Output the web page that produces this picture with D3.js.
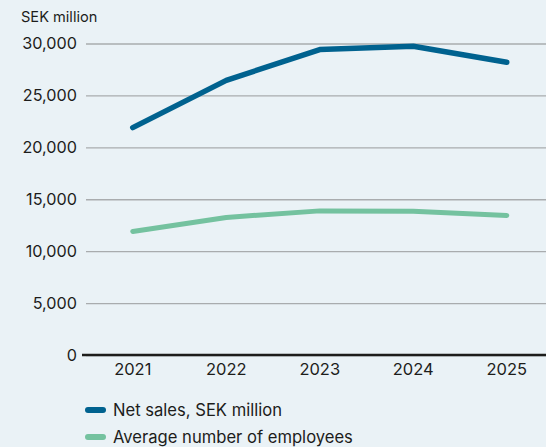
<!DOCTYPE html>
<html><head><meta charset="utf-8">
<script src="https://cdn.jsdelivr.net/npm/d3@7"></script>
<style>
html,body{margin:0;padding:0;background:#eaf2f6;overflow:hidden}
svg{display:block;font-family:Inter,"Noto Sans",sans-serif}
</style></head><body>
<svg id="c" width="546" height="447"></svg>
<script>
const years = ["2021","2022","2023","2024","2025"];
const netSales = [21900, 26450, 29420, 29740, 28200];
const employees = [11900, 13250, 13880, 13850, 13440];
const yTicks = [0, 5000, 10000, 15000, 20000, 25000, 30000];
const seriesNames = ["Net sales, SEK million", "Average number of employees"];
const seriesColors = ["#00628f", "#74c29f"];

const svg = d3.select("#c");
svg.append("rect").attr("width",546).attr("height",447).attr("fill","#eaf2f6");

const x = d3.scaleBand().domain(years).range([86, 553.5]);
const y = d3.scaleLinear().domain([0, 30000]).range([355, 43.5]);
const fmt = d3.format(",");

// grid + y labels
const ya = svg.append("g").attr("transform","translate(86,0)")
  .call(d3.axisLeft(y).tickValues(yTicks).tickFormat(fmt).tickSize(-460).tickPadding(9));
ya.select(".domain").remove();
ya.selectAll(".tick line").attr("stroke","#a9acae").attr("stroke-width",1.3);
ya.selectAll(".tick text").attr("fill","#1d1d1b").attr("font-size","16.2px").attr("font-family","Inter,sans-serif");

svg.append("text").attr("x",21).attr("y",22).attr("font-size","14.6px").attr("fill","#1d1d1b").text("SEK million");

// x axis
const xa = svg.append("g").attr("transform","translate(0,355)")
  .call(d3.axisBottom(x).tickSize(0).tickPadding(8));
xa.select(".domain").attr("stroke","#1d1d1b").attr("stroke-width",2.5).attr("d","M82,0H553.5");
xa.selectAll(".tick text").attr("fill","#1d1d1b").attr("font-size","16.5px").attr("font-family","Inter,sans-serif");

const line = d3.line().x((d,i)=>x(years[i])+x.bandwidth()/2).y(d=>y(d));
[netSales, employees].forEach((s,k)=>{
  svg.append("path").datum(s).attr("d",line).attr("fill","none")
    .attr("stroke",seriesColors[k]).attr("stroke-width",k===0?5.5:5)
    .attr("stroke-linecap","round").attr("stroke-linejoin","round");
});

// legend
seriesNames.forEach((n,k)=>{
  const yy = 410 + k*27;
  svg.append("line").attr("x1",88).attr("x2",103).attr("y1",yy).attr("y2",yy)
    .attr("stroke",seriesColors[k]).attr("stroke-width",6).attr("stroke-linecap","round");
  svg.append("text").attr("x",113).attr("y",yy+6).attr("font-size","16.6px").attr("fill","#1d1d1b").text(n);
});
</script></body></html>
